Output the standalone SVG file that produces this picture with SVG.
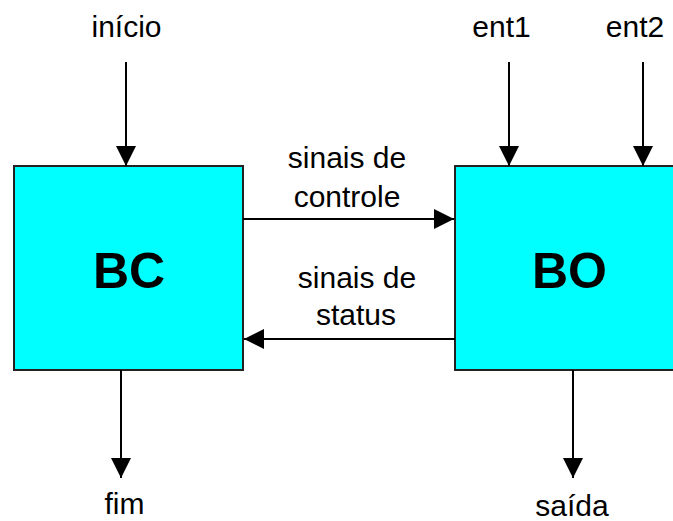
<svg xmlns="http://www.w3.org/2000/svg" width="673" height="521" viewBox="0 0 673 521">
  <style>
    .box { fill: #00FFFF; stroke: #222; stroke-width: 2; }
    .lbl { font-family: "Liberation Sans", Arial, sans-serif; font-size: 30px; fill: #000; text-anchor: middle; }
    .big { font-family: "Liberation Sans", Arial, sans-serif; font-size: 50px; font-weight: bold; fill: #000; text-anchor: middle; }
    .conn { stroke: #000; stroke-width: 2; fill: none; marker-end: url(#arr); }
  </style>
  <defs>
    <marker id="arr" markerUnits="userSpaceOnUse" markerWidth="20" markerHeight="20" refX="20" refY="10" orient="auto" viewBox="0 0 20 20">
      <path d="M0,0 L20,10 L0,20 z" fill="#000"/>
    </marker>
  </defs>
  <rect width="673" height="521" fill="#fff"/>
  <g id="BC">
    <rect class="box" x="14" y="166" width="229" height="204"/>
    <text class="big" x="129" y="288">BC</text>
  </g>
  <g id="BO">
    <rect class="box" x="455" y="166" width="230" height="204"/>
    <text class="big" x="569.5" y="288">BO</text>
  </g>
  <g id="connectors">
    <line class="conn" x1="126" y1="62" x2="126" y2="166"/>
    <line class="conn" x1="509" y1="62" x2="509" y2="166"/>
    <line class="conn" x1="643" y1="62" x2="643" y2="166"/>
    <line class="conn" x1="243" y1="219" x2="454" y2="219"/>
    <line class="conn" x1="455" y1="339" x2="244" y2="339"/>
    <line class="conn" x1="121" y1="370" x2="121" y2="478"/>
    <line class="conn" x1="573" y1="370" x2="573" y2="478"/>
  </g>
  <g id="labels">
    <text class="lbl" x="126.5" y="37">início</text>
    <text class="lbl" x="501.5" y="37">ent1</text>
    <text class="lbl" x="635" y="37">ent2</text>
    <text class="lbl" x="347" y="168">sinais de</text>
    <text class="lbl" x="347" y="207">controle</text>
    <text class="lbl" x="357" y="288">sinais de</text>
    <text class="lbl" x="356" y="325">status</text>
    <text class="lbl" x="124.5" y="514">fim</text>
    <text class="lbl" x="572" y="516">saída</text>
  </g>
</svg>
